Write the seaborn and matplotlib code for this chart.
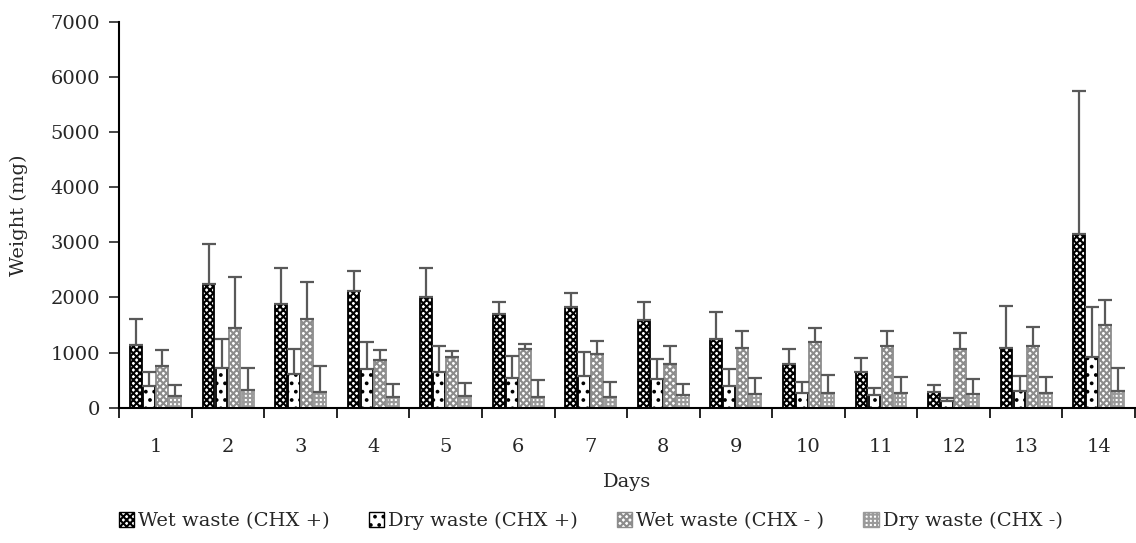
import matplotlib
matplotlib.use("Agg")
import matplotlib.pyplot as plt
import matplotlib.patches as mpatches
import seaborn as sns
import numpy as np
import pandas as pd

sns.set_theme(style="ticks")
plt.rcParams["font.family"] = ["DejaVu Serif"]
plt.rcParams["hatch.linewidth"] = 1.5

days = [str(d) for d in range(1, 15)]
groups = ["Wet waste (CHX +)", "Dry waste (CHX +)", "Wet waste (CHX - )", "Dry waste (CHX -)"]

wet_pos = [1138, 2239, 1876, 2111, 2003, 1695, 1833, 1592, 1247, 799, 642, 290, 1078, 3147]
wet_pos_sd = [472, 726, 659, 376, 538, 218, 254, 326, 490, 266, 265, 122, 762, 2588]
dry_pos = [400, 726, 612, 697, 654, 545, 575, 515, 394, 272, 225, 122, 303, 920]
dry_pos_sd = [254, 526, 448, 492, 471, 399, 436, 374, 303, 189, 138, 48, 267, 908]
wet_neg = [757, 1452, 1604, 866, 914, 1060, 969, 793, 1089, 1187, 1114, 1065, 1114, 1495]
wet_neg_sd = [290, 920, 677, 181, 121, 96, 235, 327, 309, 265, 278, 296, 345, 465]
dry_neg = [212, 321, 290, 200, 212, 200, 200, 236, 248, 267, 261, 243, 261, 309]
dry_neg_sd = [194, 405, 467, 230, 242, 303, 272, 194, 297, 321, 291, 283, 291, 417]

means = [wet_pos, dry_pos, wet_neg, dry_neg]
sds = [wet_pos_sd, dry_pos_sd, wet_neg_sd, dry_neg_sd]

rows = []
for g, m in zip(groups, means):
    for d, v in zip(days, m):
        rows.append({"Days": d, "Weight (mg)": v, "Group": g})
df = pd.DataFrame(rows)

# face, edge/hatch colour, hatch
styles = [
    ("white", "black", "xxxxx"),
    ("white", "black", ".."),
    ("white", "#8c8c8c", "xxxxx"),
    ("white", "#9a9a9a", "++++"),
]

fig = plt.figure(figsize=(11.36, 5.43), dpi=100)
ax = fig.add_axes([0.105, 0.249, 0.894, 0.711])

sns.barplot(data=df, x="Days", y="Weight (mg)", hue="Group", hue_order=groups,
            order=days, palette=["white"] * 4, errorbar=None, width=0.72, gap=0.1,
            ax=ax, legend=False)

for cont, (fc, ec, h), sd in zip(ax.containers, styles, sds):
    xs = []
    ys = []
    for bar in cont:
        bar.set_facecolor(fc)
        bar.set_edgecolor(ec)
        bar.set_hatch(h)
        bar.set_linewidth(1.3)
        xs.append(bar.get_x() + bar.get_width() / 2)
        ys.append(bar.get_height())
    ax.errorbar(xs, ys, yerr=[np.zeros(len(sd)), sd], fmt="none", ecolor="#595959",
                elinewidth=1.6, capsize=5, capthick=1.6, zorder=1)

ax.set_ylim(0, 7000)
ax.set_yticks(range(0, 7001, 1000))
ax.set_xlim(-0.5, 13.5)
ax.set_xticks(np.arange(-0.5, 13.6, 1), minor=False)
ax.set_xticklabels([])
ax.set_xticks(range(14), minor=True)
ax.set_xticklabels(days, minor=True)
ax.tick_params(axis="x", which="major", direction="out", length=7, width=1.2, color="black")
ax.tick_params(axis="x", which="minor", length=0, pad=22, labelsize=14)
ax.tick_params(axis="y", direction="out", length=7, width=1.2, labelsize=14, pad=7)
sns.despine(ax=ax)
for s in ["left", "bottom"]:
    ax.spines[s].set_color("black")
    ax.spines[s].set_linewidth(1.5)
ax.set_xlabel("Days", fontsize=14, labelpad=12)
ax.set_ylabel("Weight (mg)", fontsize=14, labelpad=16)

handles = [mpatches.Patch(facecolor=fc, edgecolor=ec, hatch=h, linewidth=1.0)
           for fc, ec, h in styles]
fig.legend(handles, groups, loc="lower center", bbox_to_anchor=(0.52, -0.008), ncol=4,
           frameon=False, fontsize=14, handlelength=0.8, handleheight=0.8,
           handletextpad=0.2, columnspacing=2.0)

fig.savefig("out.png", dpi=100)
